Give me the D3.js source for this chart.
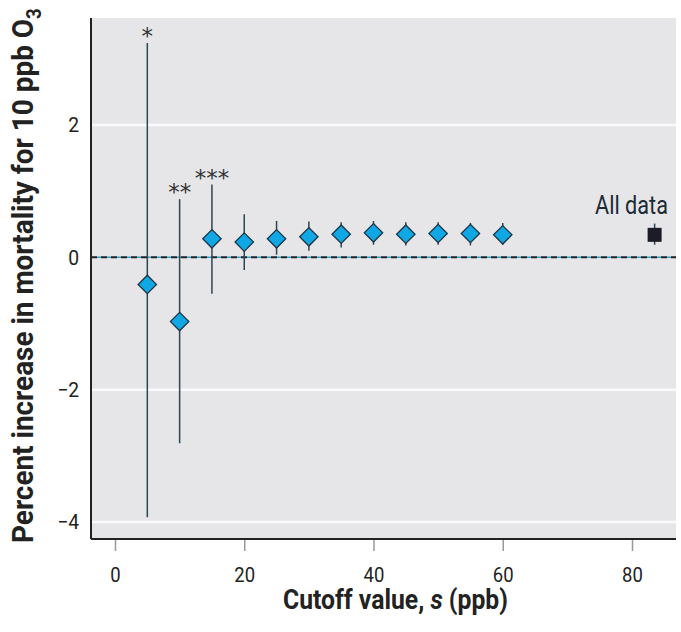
<!DOCTYPE html>
<html><head><meta charset="utf-8">
<script src="https://cdn.jsdelivr.net/npm/d3@7"></script>
<style>
body{margin:0;background:#fff;}
svg{display:block;}
</style></head>
<body>
<svg id="chart" width="681" height="632"></svg>
<script>
// ---- data ----
const cutoffs   = [5, 10, 15, 20, 25, 30, 35, 40, 45, 50, 55, 60];
const estimates = [-0.41, -0.97, 0.28, 0.23, 0.28, 0.31, 0.35, 0.37, 0.35, 0.36, 0.36, 0.34];
const lower     = [-3.93, -2.81, -0.55, -0.19, 0.04, 0.10, 0.15, 0.19, 0.18, 0.19, 0.18, 0.19];
const upper     = [3.24, 0.88, 1.10, 0.65, 0.55, 0.54, 0.53, 0.55, 0.53, 0.53, 0.52, 0.52];
const starLabels = ["*", "**", "***"];
const allDataX = 83.5;
const allDataEst = [0.34];
const allDataLower = [0.19];
const allDataUpper = [0.51];
const xTicks = [0, 20, 40, 60, 80];
const yTicks = [-4, -2, 0, 2];
const yGrid = [-4, -2, 2];

const FONT = "Roboto, 'Liberation Sans', sans-serif";
const svg = d3.select("#chart");
const L = 91, R = 676, T = 18, B = 539;
const x = d3.scaleLinear().domain([0, 80]).range([115, 632]);
const y = d3.scaleLinear().domain([-4, 2]).range([522, 125]);

// fit a text element horizontally (in its own frame) to a target width
function fitWidth(sel, target, pre) {
  const w = sel.node().getBBox().width;
  const s = target / w;
  sel.attr("transform", (pre || "") + ` scale(${s},1)`);
}

// background
svg.append("rect").attr("x", L).attr("y", T).attr("width", R - L).attr("height", B - T).attr("fill", "#e6e6e8");

// gridlines
svg.append("g").selectAll("line").data(yGrid).join("line")
  .attr("x1", L).attr("x2", R).attr("y1", d => y(d)).attr("y2", d => y(d))
  .attr("stroke", "#fafafa").attr("stroke-width", 2.5);

// zero line (dashed)
svg.append("line").attr("x1", L).attr("x2", R).attr("y1", y(0)).attr("y2", y(0))
  .attr("stroke", "#2aa3d6").attr("stroke-width", 1.5).attr("stroke-dasharray", "4,6").attr("stroke-dashoffset", -6);
svg.append("line").attr("x1", L).attr("x2", R).attr("y1", y(0)).attr("y2", y(0))
  .attr("stroke", "#222").attr("stroke-width", 2).attr("stroke-dasharray", "6,4");

// x axis
const xAxis = d3.axisBottom(x).tickValues(xTicks).tickSize(12).tickPadding(16).tickFormat(d3.format("d"));
const gx = svg.append("g").attr("transform", `translate(0,${B})`).call(xAxis);
gx.select(".domain").remove();
gx.selectAll(".tick line").attr("stroke", "#999").attr("stroke-width", 1.5);
gx.selectAll(".tick text").attr("font-family", FONT).attr("font-size", 21).attr("fill", "#222")
  .attr("transform", "scale(0.88,1)");

// y axis
const yAxis = d3.axisLeft(y).tickValues(yTicks).tickSize(0).tickPadding(13)
  .tickFormat(d => d < 0 ? "\u2212" + Math.abs(d) : String(d));
const gy = svg.append("g").attr("transform", `translate(${L},0)`).call(yAxis);
gy.select(".domain").remove();
gy.selectAll(".tick text").attr("font-family", FONT).attr("font-size", 21).attr("fill", "#222")
  .attr("x", -13).attr("transform", "scale(0.92,1)");

// axis lines
svg.append("line").attr("x1", L).attr("x2", L).attr("y1", T).attr("y2", B).attr("stroke", "#222").attr("stroke-width", 2);
svg.append("line").attr("x1", L).attr("x2", R).attr("y1", B).attr("y2", B).attr("stroke", "#222").attr("stroke-width", 2);

// error bars
const pts = cutoffs.map((c, i) => ({c, e: estimates[i], lo: lower[i], hi: upper[i]}));
svg.append("g").selectAll("line").data(pts).join("line")
  .attr("x1", d => x(d.c)).attr("x2", d => x(d.c))
  .attr("y1", d => y(d.lo)).attr("y2", d => y(d.hi))
  .attr("stroke", "#2b4656").attr("stroke-width", 1.5);

// diamonds
svg.append("g").selectAll("path").data(pts).join("path")
  .attr("d", d3.symbol().type(d3.symbolSquare).size(13 * 13))
  .attr("transform", d => `translate(${x(d.c)},${y(d.e)}) rotate(45)`)
  .attr("fill", "#10a8e4").attr("stroke", "#1d3444").attr("stroke-width", 1.3);

// stars
svg.append("g").selectAll("text").data(starLabels).join("text")
  .attr("x", (d, i) => x(cutoffs[i])).attr("y", (d, i) => y(upper[i]) + 1)
  .attr("text-anchor", "middle").attr("font-family", "DejaVu Sans, sans-serif")
  .attr("font-size", 23).attr("fill", "#333").text(d => d);

// all data
svg.append("g").selectAll("line").data(allDataEst).join("line")
  .attr("x1", x(allDataX)).attr("x2", x(allDataX))
  .attr("y1", (d, i) => y(allDataLower[i])).attr("y2", (d, i) => y(allDataUpper[i]))
  .attr("stroke", "#2b4656").attr("stroke-width", 1.5);
svg.append("g").selectAll("rect").data(allDataEst).join("rect")
  .attr("x", x(allDataX) - 7).attr("y", d => y(d) - 7).attr("width", 14).attr("height", 14)
  .attr("fill", "#1c1c26");
const ad = svg.append("text").attr("x", 0).attr("y", 0).attr("text-anchor", "start")
  .attr("font-family", FONT).attr("font-size", 26).attr("fill", "#1a2a36").text("All data");
fitWidth(ad, 73, "translate(595,214)");

// axis titles
const xt = svg.append("text").attr("x", 0).attr("y", 0).attr("text-anchor", "start")
  .attr("font-family", FONT).attr("font-size", 28).attr("font-weight", "bold").attr("fill", "#222")
  .call(t => {
    t.append("tspan").text("Cutoff value, ");
    t.append("tspan").attr("font-style", "italic").text("s");
    t.append("tspan").text(" (ppb)");
  });
fitWidth(xt, 225, "translate(283,609)");

const yt = svg.append("text").attr("x", 0).attr("y", 0).attr("text-anchor", "start")
  .attr("font-family", FONT).attr("font-size", 30).attr("font-weight", "bold").attr("fill", "#222")
  .call(t => {
    t.append("tspan").text("Percent increase in mortality for 10 ppb O");
    t.append("tspan").attr("font-size", 20).attr("dy", 8).text("3");
  });
fitWidth(yt, 535, "translate(33,543) rotate(-90)");
</script>
</body></html>
